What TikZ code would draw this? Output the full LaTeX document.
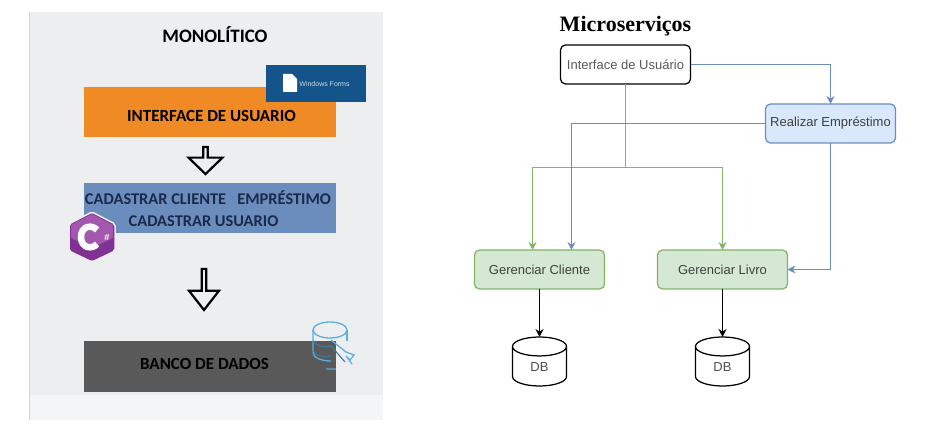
\documentclass[tikz,border=0pt]{standalone}
\usepackage{fontspec}
\setmainfont{Liberation Sans}
\newfontfamily\carlito{Carlito}
\newfontfamily\titleserif{Liberation Serif}
\usetikzlibrary{shapes.geometric, shapes.arrows, arrows.meta, positioning}
\definecolor{panelgray}{HTML}{EDEEF0}
\definecolor{panelfoot}{HTML}{F4F5F6}
\definecolor{panelline}{HTML}{D4D5D7}
\definecolor{uiorange}{HTML}{EF8A25}
\definecolor{logicblue}{HTML}{6A8DBE}
\definecolor{logictext}{HTML}{1B2A4A}
\definecolor{dbgray}{HTML}{595959}
\definecolor{formsblue}{HTML}{14548A}
\definecolor{csharp}{HTML}{7F3194}
\definecolor{csharplight}{HTML}{A358AE}
\definecolor{dbicon}{HTML}{5AAEE0}
\definecolor{greenline}{HTML}{82B366}
\definecolor{greenfill}{HTML}{D5E8D4}
\definecolor{blueline}{HTML}{6C8EBF}
\definecolor{bluefill}{HTML}{DAE8FC}

\begin{document}
\begin{tikzpicture}[x=1pt,y=-1pt,outer sep=0pt,node distance=48pt]
\tikzstyle{layer} = [rectangle, minimum width=252pt, minimum height=50pt, inner sep=0pt]
\tikzstyle{layer text} = [inner sep=0pt, font=\carlito\bfseries\fontsize{17}{20}\selectfont]
\tikzstyle{service} = [rectangle, rounded corners=5pt, minimum width=130pt, minimum height=39pt, inner sep=0pt, line width=1.25pt, text=black!75, font=\fontsize{13}{15}\selectfont]
\tikzstyle{green box} = [service, draw=greenline, fill=greenfill]
\tikzstyle{db} = [cylinder, shape border rotate=90, aspect=1.05, draw=black, line width=1.25pt, minimum width=54pt, minimum height=49pt, inner sep=0pt, text=black!70, font=\fontsize{13}{15}\selectfont]
\tikzstyle{block arrow} = [single arrow, shape border rotate=270, draw=black, line width=2.2pt, fill=none, inner sep=0pt]
\tikzstyle{arrow} = [line width=1.25pt,-{Stealth[length=8pt,width=8pt]}]
\tikzstyle{green arrow} = [arrow, draw=greenline, color=greenline]
\tikzstyle{blue arrow} = [arrow, draw=blueline, color=blueline]
\useasboundingbox (0,0) rectangle (927,430);

% Monolitico
\fill[panelfoot] (29,12) rectangle (383,420);
\fill[panelgray] (29,12) rectangle (383,395);
\draw[panelline] (29,12) -- (29,420);
\node[font=\carlito\bfseries\fontsize{19}{22}\selectfont] (monolito) at (215,35) {MONOLÍTICO};
\node[layer, fill=uiorange] (ui) at (210,112) {};
\node[layer text] (uitxt) at (211.5,115.5) {INTERFACE DE USUARIO};
\node[layer, fill=logicblue] (logica) at (210,208) {};
\node[layer text, text=logictext, font=\carlito\bfseries\fontsize{16.4}{20}\selectfont] (cadastro) at (208,198) {CADASTRAR CLIENTE\ \ \ EMPRÉSTIMO};
\node[layer text, text=logictext, font=\carlito\bfseries\fontsize{16.4}{20}\selectfont] (usuario) at (203.5,221) {CADASTRAR USUARIO};
\node[layer, fill=dbgray, minimum height=51pt] (banco) at (210,366.5) {};
\node[layer text] (bancotxt) at (204.5,363.5) {BANCO DE DADOS};
\node[block arrow, minimum height=27pt, minimum width=34pt, single arrow head extend=7.5pt, single arrow tip angle=92] (seta1) at (205.5,159.5) {};
\node[block arrow, minimum height=41pt, minimum width=30pt, single arrow head extend=6pt, single arrow tip angle=76] (seta2) at (204,288) {};

% Windows Forms
\node[rectangle, fill=formsblue, minimum width=100pt, minimum height=37pt] (forms) at (316,83.5) {};
\node[text=white!80!formsblue, font=\fontsize{7}{9}\selectfont] (formstxt) at (324.5,84.5) {Windows Forms};
\fill[white] (283,74) -- (292,74) -- (297,79) -- (297,92) -- (283,92) -- cycle;

% C#
\draw[white!85!gray, line width=1.5pt, fill=csharp, rounded corners=2pt] (92,212) -- (115,224) -- (115,251) -- (92,262) -- (69,251) -- (69,224) -- cycle;
\fill[csharplight, rounded corners=1pt] (92,214) -- (113,225) -- (113,238) -- (92,248) -- (71,238) -- (71,225) -- cycle;
\draw[white, line width=6.5pt] (97,230) .. controls (92,224) and (81,226) .. (81,237) .. controls (81,248) and (92,250) .. (97,244);
\node[text=white, font=\bfseries\fontsize{9}{9}\selectfont, inner sep=0pt] (sharp) at (107,237) {\#};

% DB icon
\draw[dbicon, line width=1.3pt] (313,330) arc (180:-180:17 and 8);
\draw[dbicon, line width=1.3pt] (313,330) -- (313,352) .. controls (313,358) and (322,361) .. (331,361);
\draw[dbicon, line width=1.3pt] (347,330) -- (347,341);
\draw[dbicon!70!black, line width=1.1pt] (313,341) .. controls (317,347) and (325,347) .. (331,346);
\draw[dbicon!70!black, line width=1.1pt] (313,351) .. controls (317,357) and (325,357) .. (331,356);
\draw[dbicon, line width=1.3pt] (331,340) -- (346,352) -- (354,355) -- (350,360) -- (346,356) -- (352,364);
\draw[dbicon!70!black, line width=1.1pt] (331,346) -- (345,362);
\draw[dbicon!60!dbgray, line width=1.1pt] (326,369) -- (336,369);

% Microservicos
\node[font=\titleserif\bfseries\fontsize{22}{25}\selectfont] (micro) at (625.5,26) {Microserviços};
\node[service, draw=black, fill=white, text=black!65] (iface) at (625.5,64.5) {Interface de Usuário};
\node[service, draw=blueline, fill=bluefill] (emprestimo) at (830.5,123.5) {Realizar Empréstimo};
\node[green box] (cliente) at (539.5,269.5) {Gerenciar Cliente};
\node[green box] (livro) at (722.5,269.5) {Gerenciar Livro};
\node[db, below=48pt of cliente] (db1) {DB};
\node[db, below=48pt of livro] (db2) {DB};
%
\coordinate (split) at (625.5,167.5);
\coordinate (clientegreen) at (532.5,250);
\coordinate (clienteblue) at (571.5,250);

\draw [green arrow] (iface.south) -- (split) -| (clientegreen);
\draw [green arrow] (split) -| (livro.north);
\draw [blue arrow] (iface.east) -| (emprestimo.north);
\draw [blue arrow] (emprestimo.west) -| (clienteblue);
\draw [blue arrow] (emprestimo.south) |- (livro.east);
\draw [arrow] (cliente) -- (db1);
\draw [arrow] (livro) -- (db2);
%
\end{tikzpicture}
\end{document}
